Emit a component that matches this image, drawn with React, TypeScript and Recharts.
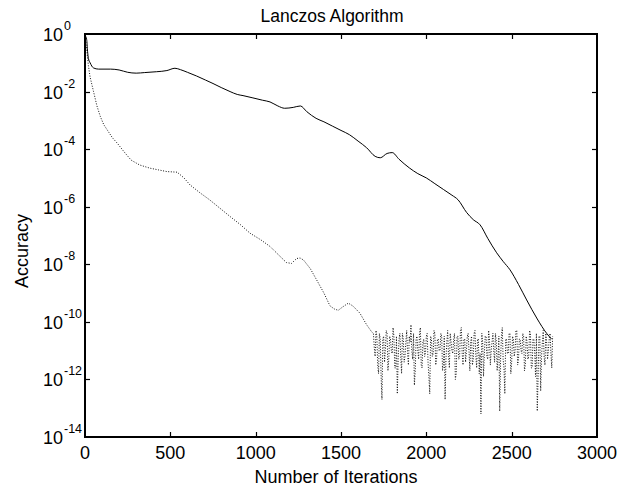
import { LineChart, Line, XAxis, YAxis } from "recharts";

// iterations / log10(accuracy)
const solidIters = [
  0, 10, 15, 20, 30, 50, 80, 150, 200, 250, 300, 350, 420, 480, 527, 560, 600, 654, 706, 750, 798, 850, 892,
  926, 984, 1040, 1084, 1130, 1170, 1220, 1262, 1300, 1354, 1400, 1450, 1500, 1550, 1600, 1650, 1700, 1730,
  1770, 1800, 1840, 1900, 1950, 2000, 2050, 2100, 2150, 2186, 2236, 2275, 2315, 2360, 2412, 2450, 2490, 2540,
  2588, 2650, 2705, 2734,
];
const solidExp = [
  -0.05, -0.2, -0.6, -0.85, -1.0, -1.18, -1.22, -1.22, -1.25, -1.33, -1.36, -1.34, -1.31, -1.27, -1.19, -1.24,
  -1.33, -1.46, -1.6, -1.72, -1.86, -2.0, -2.1, -2.14, -2.22, -2.3, -2.36, -2.5, -2.58, -2.55, -2.5, -2.7,
  -2.93, -3.05, -3.2, -3.35, -3.5, -3.72, -3.95, -4.25, -4.3, -4.15, -4.12, -4.35, -4.65, -4.85, -5.0, -5.2,
  -5.4, -5.6, -5.76, -6.2, -6.45, -6.63, -7.1, -7.6, -7.9, -8.19, -8.7, -9.24, -9.9, -10.4, -10.6,
];

const dottedIters = [
  0, 5, 10, 20, 30, 40, 50, 70, 90, 110, 130, 160, 190, 230, 270, 320, 380, 430, 480, 540, 580, 615, 670, 730,
  790, 850, 910, 967, 1030, 1084, 1130, 1180, 1210, 1240, 1260, 1280, 1320, 1357, 1400, 1435, 1460, 1484, 1510,
  1543, 1570, 1611, 1650, 1680,
];
const dottedExp = [
  -0.1, -0.3, -0.55, -1.1, -1.5, -1.75, -2.0, -2.5, -2.87, -3.15, -3.33, -3.6, -3.8, -4.1, -4.38, -4.55, -4.66,
  -4.72, -4.78, -4.8, -5.0, -5.24, -5.5, -5.76, -6.05, -6.34, -6.62, -6.92, -7.15, -7.38, -7.65, -7.94, -7.97,
  -7.8, -7.78, -7.85, -8.15, -8.54, -9.0, -9.44, -9.55, -9.6, -9.48, -9.35, -9.45, -9.7, -10.1, -10.35,
];

// round-off floor: samples at 1690, 1700, ... 2740
const noiseStartA = 1690;
const noiseExpA = [
  -10.4, -11.2, -10.5, -11.8, -10.6, -12.7, -10.5, -11.0, -10.4, -11.3, -10.6, -11.1, -10.5, -11.6, -12.5,
  -10.6, -11.2, -10.4, -11.4, -10.7, -11.1, -10.5, -10.1, -11.3, -12.2, -10.6, -11.0, -10.4, -11.5, -10.7,
  -11.2, -10.5, -11.4, -12.5, -10.6, -11.1, -10.4, -11.3, -10.6, -11.0, -10.5, -11.5, -12.7, -10.7, -11.2,
  -10.4, -11.0, -10.6, -12.0, -10.5, -11.3, -10.3, -11.1, -10.6, -11.4, -10.5, -11.0, -10.7, -11.5, -10.4,
  -11.2, -10.6, -11.8, -13.2, -10.7, -11.1, -10.5, -11.3, -10.6, -11.0, -10.4, -11.4, -10.7, -11.2, -13.1,
  -10.5, -11.3, -12.5, -10.6, -11.1, -10.4, -11.4, -10.6, -11.0, -10.3, -11.3, -10.6, -11.1, -10.5, -11.5,
  -10.7, -11.2, -10.4, -11.6, -10.6, -11.9, -13.1, -10.5, -12.4, -10.7, -11.2, -10.4, -11.3, -10.6, -11.1,
  -10.5,
];
// in-between samples at 1695, 1705, ... 2735
const noiseStartB = 1695;
const noiseExpB = [
  -10.9, -10.3, -11.5, -10.4, -11.9, -10.6, -11.4, -10.3, -11.7, -10.5,
  -11.0, -10.2, -11.6, -10.5, -11.3, -10.4, -11.8, -10.6, -11.2, -10.3,
  -11.5, -10.7, -11.0, -10.4, -11.7, -10.5, -11.3, -10.2, -11.6, -10.6,
  -11.1, -10.4, -11.9, -10.5, -11.2, -10.3, -11.5, -10.6, -11.0, -10.4,
  -11.7, -10.5, -11.3, -10.3, -11.6, -10.7, -11.1, -10.4, -11.8, -10.5,
  -11.2, -10.2, -11.5, -10.6, -11.0, -10.4, -11.7, -10.5, -11.3, -10.3,
  -11.6, -10.6, -11.1, -10.4, -11.9, -10.5, -11.2, -10.3, -11.5, -10.7,
  -11.0, -10.4, -11.7, -10.5, -11.3, -10.2, -11.6, -10.6, -11.1, -10.4,
  -11.8, -10.5, -11.2, -10.3, -11.5, -10.6, -11.0, -10.4, -11.7, -10.5,
  -11.3, -10.3, -11.6, -10.6, -11.1, -10.4, -11.9, -10.5, -11.2, -10.3,
  -11.5, -10.7, -11.0, -10.4, -11.6,
];

const xTicks = [0, 500, 1000, 1500, 2000, 2500, 3000];
const yTicks = [-14, -12, -10, -8, -6, -4, -2, 0];

const W = 619;
const H = 492;
const PLOT_LEFT = 85;
const PLOT_RIGHT = 597;
const PLOT_TOP = 34;
const PLOT_BOTTOM = 437;
const FONT = "'Liberation Sans', Arial, sans-serif";

const solidData = solidIters.map((x, i) => ({ x, y: solidExp[i] }));
const noiseData = [
  ...noiseExpA.map((y, i) => ({ x: noiseStartA + i * 10, y })),
  ...noiseExpB.map((y, i) => ({ x: noiseStartB + i * 10, y })),
].sort((a, b) => a.x - b.x);
const dottedData = [...dottedIters.map((x, i) => ({ x, y: dottedExp[i] })), ...noiseData];

const XTick = (props: any) => {
  const { x, payload } = props;
  const v = payload.value;
  const inner = v !== 0 && v !== 3000;
  const px = Math.round(x) + 0.5;
  return (
    <g>
      {inner && <line x1={px} x2={px} y1={PLOT_BOTTOM} y2={PLOT_BOTTOM - 5} stroke="#000" strokeWidth={1.2} />}
      {inner && <line x1={px} x2={px} y1={PLOT_TOP} y2={PLOT_TOP + 5} stroke="#000" strokeWidth={1.2} />}
      <text x={x} y={PLOT_BOTTOM + 22} textAnchor="middle" fontSize={18} fontFamily={FONT} fill="#000">
        {v}
      </text>
    </g>
  );
};

const YTick = (props: any) => {
  const { y, payload } = props;
  const v = payload.value;
  const inner = v !== 0 && v !== -14;
  const py = Math.round(y) + 0.5;
  return (
    <g>
      {inner && <line x1={PLOT_LEFT} x2={PLOT_LEFT + 5} y1={py} y2={py} stroke="#000" strokeWidth={1.2} />}
      {inner && <line x1={PLOT_RIGHT} x2={PLOT_RIGHT - 5} y1={py} y2={py} stroke="#000" strokeWidth={1.2} />}
      <text x={63} y={y + 7} textAnchor="end" fontSize={18} fontFamily={FONT} fill="#000">
        10
      </text>
      <text x={64} y={y - 4} textAnchor="start" fontSize={12.5} fontFamily={FONT} fill="#000">
        {v === 0 ? "0" : `-${-v}`}
      </text>
    </g>
  );
};

export default function App() {
  return (
    <div style={{ position: "absolute", left: 0, top: 0, width: W, height: H, background: "#fff" }}>
      <LineChart width={W} height={H} margin={{ top: PLOT_TOP, right: W - PLOT_RIGHT, bottom: 0, left: 0 }}>
        <XAxis
          dataKey="x"
          type="number"
          domain={[0, 3000]}
          ticks={xTicks}
          height={H - PLOT_BOTTOM}
          tick={<XTick />}
          tickLine={false}
          axisLine={{ stroke: "#000", strokeWidth: 2 }}
          allowDataOverflow
        />
        <YAxis
          type="number"
          domain={[-14, 0]}
          ticks={yTicks}
          width={PLOT_LEFT}
          tick={<YTick />}
          tickLine={false}
          axisLine={{ stroke: "#000", strokeWidth: 2 }}
          allowDataOverflow
        />
        <Line
          data={dottedData}
          dataKey="y"
          type="linear"
          stroke="#111"
          strokeWidth={1}
          strokeDasharray="1 1.6"
          dot={false}
          isAnimationActive={false}
        />
        <Line
          data={solidData}
          dataKey="y"
          type="monotone"
          stroke="#000"
          strokeWidth={1}
          dot={false}
          isAnimationActive={false}
        />
      </LineChart>
      <svg
        width={W}
        height={H}
        style={{ position: "absolute", left: 0, top: 0, pointerEvents: "none" }}
        fontFamily={FONT}
      >
        <rect
          x={PLOT_LEFT}
          y={PLOT_TOP}
          width={PLOT_RIGHT - PLOT_LEFT}
          height={PLOT_BOTTOM - PLOT_TOP}
          fill="none"
          stroke="#000"
          strokeWidth={2}
        />
        <text x={332} y={22} textAnchor="middle" fontSize={17.5} fill="#000">
          Lanczos Algorithm
        </text>
        <text x={336} y={483} textAnchor="middle" fontSize={18} fill="#000">
          Number of Iterations
        </text>
        <text x={28} y={251} textAnchor="middle" fontSize={18} fill="#000" transform="rotate(-90 28 251)">
          Accuracy
        </text>
      </svg>
    </div>
  );
}
